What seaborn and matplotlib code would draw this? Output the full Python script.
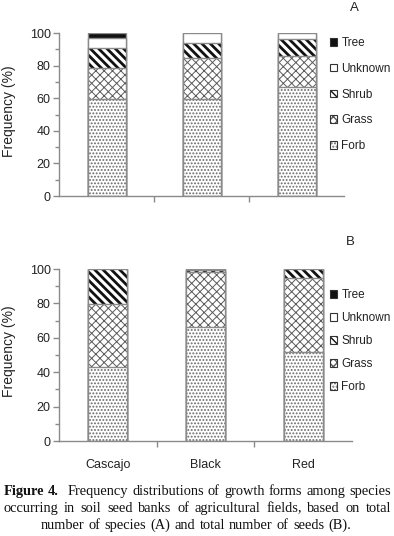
import matplotlib
matplotlib.use("Agg")
import matplotlib.pyplot as plt
import seaborn as sns
import numpy as np
import pandas as pd
from matplotlib.patches import Patch
from matplotlib.legend_handler import HandlerTuple

# ---------------- data ----------------
categories = ["Cascajo", "Black", "Red"]
forms = ["Forb", "Grass", "Shrub", "Unknown", "Tree"]

# Panel A: based on total number of species (%)
forb_a = [59.5, 59.5, 66.9]
grass_a = [18.9, 25.2, 18.7]
shrub_a = [12.2, 9.3, 10.7]
unknown_a = [6.4, 6.0, 3.7]
tree_a = [3.0, 0.0, 0.0]

# Panel B: based on total number of seeds (%)
forb_b = [42.8, 66.0, 52.0]
grass_b = [37.0, 32.4, 43.0]
shrub_b = [20.0, 1.3, 5.0]
unknown_b = [0.0, 0.3, 0.0]
tree_b = [0.2, 0.0, 0.0]

panel_labels = ["A", "B"]
y_ticks = [0, 20, 40, 60, 80, 100]

# ---------------- style ----------------
W, H, DPI = 394, 536, 100

sns.set_theme(style="ticks")
plt.rcParams["font.family"] = ["Liberation Sans", "DejaVu Sans"]

styles = {
    "Forb":    dict(face="white", hatch=".....", hc="#6a6a6a", hlw=0.9, leg_hatch=".....", leg_hlw=0.7),
    "Grass":   dict(face="white", hatch="xxxx", hc="#5a5a5a", hlw=0.7, leg_hatch="xxxx", leg_hlw=0.6),
    "Shrub":   dict(face="white", hatch="\\\\\\\\", hc="#111111", hlw=2.0, leg_hatch="\\\\\\\\\\", leg_hlw=1.6),
    "Unknown": dict(face="white", hatch="", hc="#111111", hlw=1.0, leg_hatch="", leg_hlw=1.0),
    "Tree":    dict(face="#111111", hatch="", hc="#111111", hlw=1.0, leg_hatch="", leg_hlw=1.0),
}
EDGE = "#8a8a8a"
AX_COL = "#8a8a8a"
TXT = "#222222"
FS_TICK = 9.0
FS_LEG = 8.5
FS_YLAB = 10.0


def set_hlw(p, lw):
    if hasattr(p, "set_hatch_linewidth"):
        try:
            p.set_hatch_linewidth(lw)
        except Exception:
            pass


def draw_panel(ax, data, show_xlabels, ax_w_px):
    cum = np.cumsum(np.array([data[f] for f in forms]), axis=0)
    # draw from top layer down so lower layers cover the upper bars
    for i in range(len(forms) - 1, -1, -1):
        f = forms[i]
        st = styles[f]
        df = pd.DataFrame({"cat": categories, "val": cum[i]})
        with plt.rc_context({"hatch.linewidth": st["hlw"]}):
            n0 = len(ax.patches)
            sns.barplot(data=df, x="cat", y="val", order=categories, ax=ax,
                        color=st["face"], saturation=1, width=0.4,
                        errorbar=None)
            for p in ax.patches[n0:]:
                p.set_facecolor(st["face"])
                p.set_edgecolor(st["hc"])
                p.set_linewidth(0)
                if st["hatch"]:
                    p.set_hatch(st["hatch"])
                set_hlw(p, st["hlw"])
        # outline of this cumulative segment
        n0 = len(ax.patches)
        sns.barplot(data=df, x="cat", y="val", order=categories, ax=ax,
                    color="white", saturation=1, width=0.4, errorbar=None)
        for p in ax.patches[n0:]:
            p.set_facecolor("none")
            p.set_edgecolor(EDGE)
            p.set_linewidth(1.0)
    ax.set_ylim(0, 100)
    ax.set_xlim(-0.5, 2.5)
    ax.set_yticks(y_ticks)
    ax.set_yticks(np.arange(10, 100, 20), minor=True)
    ax.set_xticks([0, 1, 2])
    ax.set_xticklabels(categories if show_xlabels else ["", "", ""])
    ax.set_xticks([0.5, 1.5], minor=True)
    ax.tick_params(axis="x", which="major", length=0, pad=13,
                   labelsize=FS_TICK, labelcolor=TXT)
    ax.tick_params(axis="x", which="minor", length=4, width=1,
                   color=AX_COL, direction="out")
    ax.tick_params(axis="y", which="major", length=4, width=1,
                   color=AX_COL, labelsize=FS_TICK, labelcolor=TXT, pad=2)
    ax.tick_params(axis="y", which="minor", length=3, width=1,
                   color=AX_COL, direction="out")
    sns.despine(ax=ax)
    for s in ("left", "bottom"):
        ax.spines[s].set_color(AX_COL)
        ax.spines[s].set_linewidth(1.0)
    ax.set_xlabel("")
    ax.set_ylabel("Frequency (%)", fontsize=FS_YLAB, color=TXT)
    ax.yaxis.set_label_coords((16 - 59) / ax_w_px, 0.52)


fig = plt.figure(figsize=(W / DPI, H / DPI), dpi=DPI)
fig.patch.set_facecolor("white")


def ax_rect(l, t, r, b):
    return [l / W, 1 - b / H, (r - l) / W, (b - t) / H]


panels = [
    dict(rect=(59, 33, 344, 196), data=dict(Forb=forb_a, Grass=grass_a, Shrub=shrub_a,
                                            Unknown=unknown_a, Tree=tree_a),
         xl=False, lab_xy=(354, 8), leg_top=37, leg_sp=1.17),
    dict(rect=(59, 269, 352, 441), data=dict(Forb=forb_b, Grass=grass_b, Shrub=shrub_b,
                                             Unknown=unknown_b, Tree=tree_b),
         xl=True, lab_xy=(350, 242), leg_top=289, leg_sp=0.93),
]

for k, pnl in enumerate(panels):
    l, t, r, b = pnl["rect"]
    ax = fig.add_axes(ax_rect(l, t, r, b))
    ax.set_facecolor("white")
    draw_panel(ax, pnl["data"], pnl["xl"], r - l)
    fig.text(pnl["lab_xy"][0] / W, 1 - pnl["lab_xy"][1] / H, panel_labels[k],
             fontsize=9.5, color=TXT, ha="center", va="center")
    # legend
    handles = []
    for f in forms[::-1]:
        st = styles[f]
        with plt.rc_context({"hatch.linewidth": st["leg_hlw"]}):
            hp = Patch(facecolor=st["face"], edgecolor=st["hc"], linewidth=0,
                       hatch=st["leg_hatch"] if st["leg_hatch"] else None)
        set_hlw(hp, st["leg_hlw"])
        op = Patch(facecolor="none", edgecolor="#333333", linewidth=0.8)
        handles.append((hp, op))
    leg = ax.legend(handles, forms[::-1], handler_map={tuple: HandlerTuple(ndivide=1, pad=0)},
                    loc="upper left", bbox_to_anchor=(330 / W, 1 - pnl["leg_top"] / H),
                    bbox_transform=fig.transFigure, frameon=False, fontsize=FS_LEG,
                    handlelength=0.62, handleheight=0.62, handletextpad=0.35,
                    labelspacing=pnl["leg_sp"], borderaxespad=0, borderpad=0)
    for tx in leg.get_texts():
        tx.set_color(TXT)

# ---------------- caption (justified) ----------------
renderer = fig.canvas.get_renderer()
CFS = 10.4
SERIF = ["Liberation Serif", "DejaVu Serif"]
lines = [
    ([("Figure", True), ("4.", True), ("Frequency", False), ("distributions", False),
      ("of", False), ("growth", False), ("forms", False), ("among", False), ("species", False)],
     495, "justify"),
    ([("occurring", False), ("in", False), ("soil", False), ("seed", False), ("banks", False),
      ("of", False), ("agricultural", False), ("fields,", False), ("based", False),
      ("on", False), ("total", False)], 512, "justify"),
    ([("number", False), ("of", False), ("species", False), ("(A)", False), ("and", False),
      ("total", False), ("number", False), ("of", False), ("seeds", False), ("(B).", False)],
     529, "center"),
]
X0, X1 = 3.5, 391.0
sp_t = fig.text(0, 0, "a a", fontsize=CFS, family=SERIF)
aa_t = fig.text(0, 0, "aa", fontsize=CFS, family=SERIF)
space_w = sp_t.get_window_extent(renderer).width - aa_t.get_window_extent(renderer).width
sp_t.remove(); aa_t.remove()

for words, ybase, mode in lines:
    texts = []
    for w, bold in words:
        t = fig.text(0, 1 - ybase / H, w, fontsize=CFS, family=SERIF,
                     weight="bold" if bold else "normal", color="#111111",
                     ha="left", va="baseline")
        texts.append(t)
    widths = [t.get_window_extent(renderer).width for t in texts]
    weights = [1.0] * (len(texts) - 1)
    if words[0][0] == "Figure":
        weights[1] = 2.0  # double space after "Figure 4."
    if mode == "justify":
        unit = (X1 - X0 - sum(widths)) / sum(weights)
        x = X0
    else:
        unit = space_w * 1.15
        total = sum(widths) + unit * sum(weights)
        x = 196 - total / 2
    for i, t in enumerate(texts):
        t.set_x(x / W)
        x += widths[i]
        if i < len(weights):
            x += unit * weights[i]

fig.savefig("out.png", dpi=DPI, facecolor="white")
